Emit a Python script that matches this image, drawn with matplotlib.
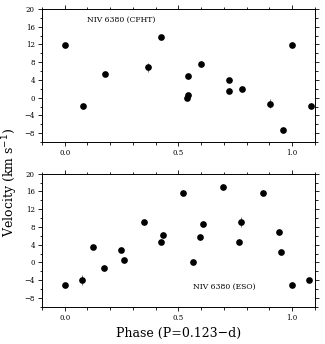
import numpy as np
import matplotlib
matplotlib.use("Agg")
import matplotlib.pyplot as plt
from matplotlib.ticker import MultipleLocator

# NIV 6380 radial velocities, CFHT
cfht_phase = [0.0, 0.081, 0.177, 0.365, 0.422, 0.544, 0.538, 0.544, 0.60,
              0.721, 0.721, 0.78, 0.902, 0.959, 1.0, 1.081]
cfht_vel = [11.8, -1.9, 5.4, 6.9, 13.7, 5.0, 0.0, 0.5, 7.5,
            4.0, 1.6, 2.0, -1.4, -7.2, 11.8, -1.9]
cfht_err = [0.4, 0.4, 0.4, 1.0, 0.4, 0.4, 0.4, 0.4, 0.4,
            0.4, 0.4, 0.4, 1.0, 0.4, 0.4, 0.4]

# NIV 6380 radial velocities, ESO
eso_phase = [0.0, 0.078, 0.123, 0.174, 0.249, 0.26, 0.349, 0.422, 0.433,
             0.522, 0.562, 0.594, 0.606, 0.696, 0.765, 0.777, 0.871, 0.94,
             0.95, 1.0, 1.076]
eso_vel = [-5.15, -3.9, 3.5, -1.2, 2.9, 0.6, 9.2, 4.6, 6.3,
           15.7, 0.0, 5.8, 8.6, 17.0, 4.6, 9.2, 15.7, 6.9,
           2.35, -5.15, -3.9]
eso_err = [0.4, 1.1, 0.4, 0.4, 0.4, 0.4, 0.4, 0.4, 0.4,
           0.4, 0.4, 0.4, 0.4, 0.4, 0.4, 1.1, 0.4, 0.4,
           0.4, 0.4, 0.4]

plt.rcParams['font.family'] = ['DejaVu Serif']

fig = plt.figure(figsize=(3.25, 3.44), dpi=100)
ax1 = fig.add_axes([0.129, 0.587, 0.840, 0.387])
ax2 = fig.add_axes([0.129, 0.108, 0.840, 0.387])

def style(ax):
    ax.set_xlim(-0.1, 1.1)
    ax.set_ylim(-10, 20)
    ax.xaxis.set_major_locator(MultipleLocator(0.5))
    ax.xaxis.set_minor_locator(MultipleLocator(0.1))
    ax.yaxis.set_minor_locator(MultipleLocator(2))
    ax.set_yticks([-8, -4, 0, 4, 8, 12, 16, 20])
    ax.xaxis.set_major_formatter(plt.FormatStrFormatter('%.1f'))
    ax.tick_params(which='both', direction='out', top=True, right=True,
                   labelsize=5, width=0.6, pad=2)
    ax.tick_params(which='major', length=3)
    ax.tick_params(which='minor', length=1.8)
    for s in ax.spines.values():
        s.set_linewidth(0.7)

for ax, ph, v, e, label, tx, ty in [
        (ax1, cfht_phase, cfht_vel, cfht_err, 'NIV 6380 (CFHT)', 0.10, 17.5),
        (ax2, eso_phase, eso_vel, eso_err, 'NIV 6380 (ESO)', 0.563, -5.6)]:
    ax.errorbar(ph, v, yerr=e, fmt='o', color='black', ecolor='#777777',
                elinewidth=0.7, capsize=0, markersize=3.8)
    ax.text(tx, ty, label, fontsize=5.5, va='center', ha='left')
    style(ax)

fig.text(0.03, 0.47, 'Velocity (km s$^{-1}$)', rotation=90,
         ha='center', va='center', fontsize=9)
fig.text(0.55, 0.032, 'Phase (P=0.123\u2212d)', ha='center', va='center',
         fontsize=9)

fig.savefig('out.png', dpi=100)
